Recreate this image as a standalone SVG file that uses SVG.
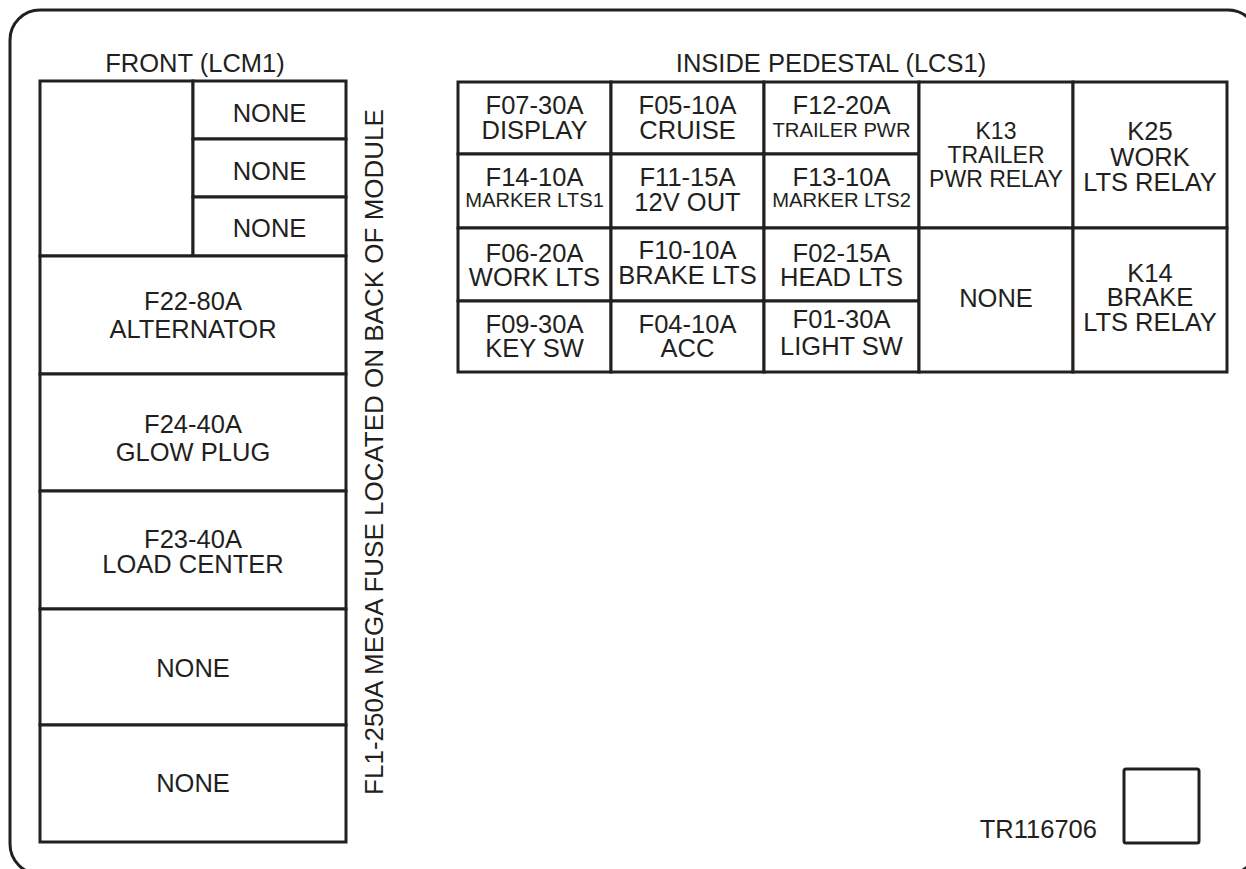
<svg xmlns="http://www.w3.org/2000/svg" width="1246" height="869" viewBox="0 0 1246 869">
<style>
.frame{fill:none;stroke:#231f20;stroke-width:3}
.cell{fill:#fff;stroke:#231f20;stroke-width:3;stroke-linejoin:miter}
text{font-family:"Liberation Sans",Arial,Helvetica,sans-serif;fill:#231f20;text-anchor:middle}
.t25{font-size:25.5px}
.t22{font-size:23px}
.t20{font-size:20.2px}
</style>
<rect class="frame" x="10" y="10" width="1248" height="864" rx="30" ry="30"/>
<text class="t25" x="195" y="72">FRONT (LCM1)</text>
<text class="t25" x="831" y="72">INSIDE PEDESTAL (LCS1)</text>
<text class="t25" style="font-size:26px" transform="translate(383,452) rotate(-90)">FL1-250A MEGA FUSE LOCATED ON BACK OF MODULE</text>
<text class="t25" x="1097" y="838" style="text-anchor:end">TR116706</text>
<rect class="cell" x="1124" y="769" width="75" height="74" rx="2"/>

<g id="lcm1">
<g id="lcm-blank"><rect class="cell" x="40" y="81" width="153" height="175"/></g>
<g id="lcm-none1"><rect class="cell" x="193" y="81" width="153" height="58"/><text class="t25" x="269.5" y="122">NONE</text></g>
<g id="lcm-none2"><rect class="cell" x="193" y="139" width="153" height="58"/><text class="t25" x="269.5" y="180">NONE</text></g>
<g id="lcm-none3"><rect class="cell" x="193" y="197" width="153" height="59"/><text class="t25" x="269.5" y="237">NONE</text></g>
<g id="f22"><rect class="cell" x="40" y="256" width="306" height="118"/><text class="t25" x="193" y="310">F22-80A</text><text class="t25" x="193" y="338">ALTERNATOR</text></g>
<g id="f24"><rect class="cell" x="40" y="374" width="306" height="117"/><text class="t25" x="193" y="433">F24-40A</text><text class="t25" x="193" y="461">GLOW PLUG</text></g>
<g id="f23"><rect class="cell" x="40" y="491" width="306" height="118"/><text class="t25" x="193" y="548">F23-40A</text><text class="t25" x="193" y="573">LOAD CENTER</text></g>
<g id="lcm-none4"><rect class="cell" x="40" y="609" width="306" height="116"/><text class="t25" x="193" y="677">NONE</text></g>
<g id="lcm-none5"><rect class="cell" x="40" y="725" width="306" height="117"/><text class="t25" x="193" y="792">NONE</text></g>
</g>

<g id="lcs1">
<g id="f07"><rect class="cell" x="458" y="82" width="153" height="72"/><text class="t25" x="534.5" y="114">F07-30A</text><text class="t25" x="534.5" y="139">DISPLAY</text></g>
<g id="f05"><rect class="cell" x="611" y="82" width="153" height="72"/><text class="t25" x="687.5" y="114">F05-10A</text><text class="t25" x="687.5" y="139">CRUISE</text></g>
<g id="f12"><rect class="cell" x="764" y="82" width="155" height="72"/><text class="t25" x="841.5" y="114">F12-20A</text><text class="t20" x="841.5" y="137">TRAILER PWR</text></g>
<g id="f14"><rect class="cell" x="458" y="154" width="153" height="74"/><text class="t25" x="534.5" y="186">F14-10A</text><text class="t20" x="534.5" y="207">MARKER LTS1</text></g>
<g id="f11"><rect class="cell" x="611" y="154" width="153" height="74"/><text class="t25" x="687.5" y="186">F11-15A</text><text class="t25" x="687.5" y="211">12V OUT</text></g>
<g id="f13"><rect class="cell" x="764" y="154" width="155" height="74"/><text class="t25" x="841.5" y="186">F13-10A</text><text class="t20" x="841.5" y="207">MARKER LTS2</text></g>
<g id="f06"><rect class="cell" x="458" y="228" width="153" height="73"/><text class="t25" x="534.5" y="262">F06-20A</text><text class="t25" x="534.5" y="286">WORK LTS</text></g>
<g id="f10"><rect class="cell" x="611" y="228" width="153" height="73"/><text class="t25" x="687.5" y="259">F10-10A</text><text class="t25" x="687.5" y="284">BRAKE LTS</text></g>
<g id="f02"><rect class="cell" x="764" y="228" width="155" height="73"/><text class="t25" x="841.5" y="262">F02-15A</text><text class="t25" x="841.5" y="286">HEAD LTS</text></g>
<g id="f09"><rect class="cell" x="458" y="301" width="153" height="71"/><text class="t25" x="534.5" y="333">F09-30A</text><text class="t25" x="534.5" y="357">KEY SW</text></g>
<g id="f04"><rect class="cell" x="611" y="301" width="153" height="71"/><text class="t25" x="687.5" y="333">F04-10A</text><text class="t25" x="687.5" y="357">ACC</text></g>
<g id="f01"><rect class="cell" x="764" y="301" width="155" height="71"/><text class="t25" x="841.5" y="328">F01-30A</text><text class="t25" x="841.5" y="355">LIGHT SW</text></g>
<g id="k13"><rect class="cell" x="919" y="82" width="154" height="146"/><text class="t22" x="996" y="139">K13</text><text class="t22" x="996" y="163">TRAILER</text><text class="t22" x="996" y="187">PWR RELAY</text></g>
<g id="k25"><rect class="cell" x="1073" y="82" width="154" height="146"/><text class="t25" x="1150" y="140">K25</text><text class="t25" x="1150" y="166">WORK</text><text class="t25" x="1150" y="191">LTS RELAY</text></g>
<g id="lcs-none"><rect class="cell" x="919" y="228" width="154" height="144"/><text class="t25" x="996" y="307">NONE</text></g>
<g id="k14"><rect class="cell" x="1073" y="228" width="154" height="144"/><text class="t25" x="1150" y="282">K14</text><text class="t25" x="1150" y="306">BRAKE</text><text class="t25" x="1150" y="331">LTS RELAY</text></g>
</g>
<g id="connectors"/>
</svg>
